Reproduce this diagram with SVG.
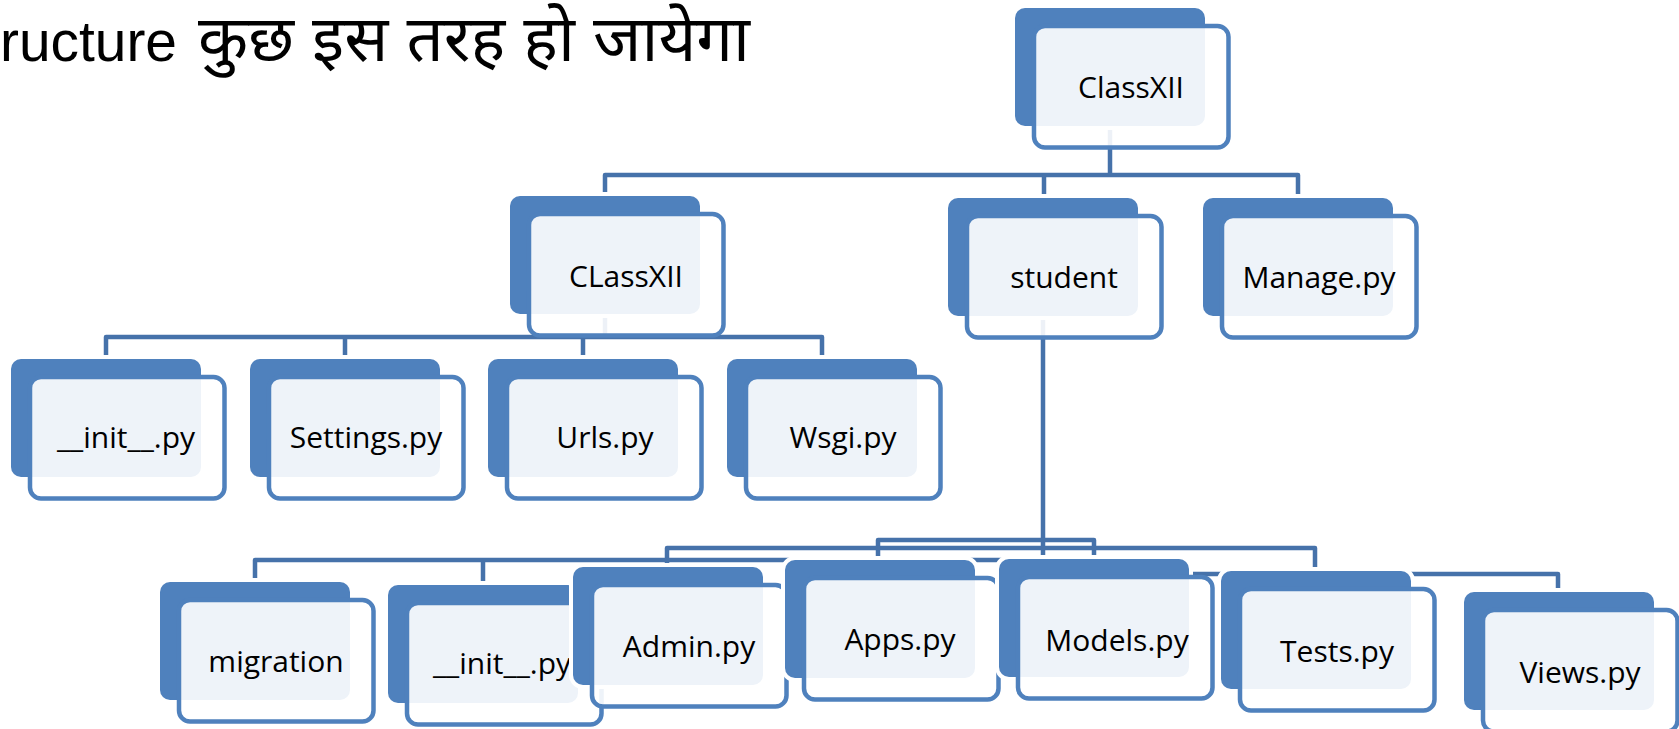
<svg xmlns="http://www.w3.org/2000/svg" width="1679" height="729" viewBox="0 0 1679 729">
<style>
.back{fill:#4F81BD;stroke:#FFFFFF;stroke-width:8;paint-order:stroke}
.front{fill:#FFFFFF;fill-opacity:0.9;stroke:#4F81BD;stroke-width:4.5}
.lbl{font-family:"Open Sans","Noto Sans",sans-serif;font-size:30px;fill:#000000;text-anchor:middle}
.conn{fill:none;stroke:#4672AA;stroke-width:4.5;stroke-linejoin:round}
.title{font-family:"Liberation Sans","Noto Sans","Noto Sans Devanagari",sans-serif;font-size:58px;fill:#000000}
</style>
<defs>
<g id="box">
<rect class="back" x="0" y="0" width="190" height="118" rx="10"/>
<rect class="front" x="19" y="18" width="194.5" height="121.5" rx="11"/>
</g>
</defs>
<text class="title" x="0" y="61"><tspan textLength="177" lengthAdjust="spacingAndGlyphs">ructure</tspan><tspan x="198" font-size="64" textLength="552" lengthAdjust="spacingAndGlyphs">कुछ इस तरह हो जायेगा</tspan></text>
<g id="connectors">
<path class="conn" d="M1110,127 V175 M605,196 V175 H1298 V198 M1044,175 V198"/>
<path class="conn" d="M605,314 V337 M106,359 V337 H822 V359 M345,337 V359 M583,337 V359"/>
<path class="conn" d="M1043,318 V574"/>
<path class="conn" d="M878,560 V540 H1094 V559"/>
<path class="conn" d="M667,567 V548 H1315 V571"/>
<path class="conn" d="M255,582 V560 H1043 M483,560 V585"/>
<path class="conn" d="M1043,574 H1558 V592"/>
</g>
<g id="n-classxii-root" transform="translate(1015,8)"><use href="#box"/><text class="lbl" x="116" y="90">ClassXII</text></g>
<g id="n-classxii" transform="translate(510,196)"><use href="#box"/><text class="lbl" x="116" y="91">CLassXII</text></g>
<g id="n-init1" transform="translate(11,359)"><use href="#box"/><text class="lbl" x="115" y="89">__init__.py</text></g>
<g id="n-settings" transform="translate(250,359)"><use href="#box"/><text class="lbl" x="116" y="89">Settings.py</text></g>
<g id="n-urls" transform="translate(488,359)"><use href="#box"/><text class="lbl" x="117" y="89">Urls.py</text></g>
<g id="n-wsgi" transform="translate(727,359)"><use href="#box"/><text class="lbl" x="116" y="89">Wsgi.py</text></g>
<g id="n-student" transform="translate(948,198)"><use href="#box"/><text class="lbl" x="116" y="90">student</text></g>
<g id="n-migration" transform="translate(160,582)"><use href="#box"/><text class="lbl" x="116" y="90">migration</text></g>
<g id="n-init2" transform="translate(388,585)"><use href="#box"/><text class="lbl" x="114" y="89">__init__.py</text></g>
<g id="n-admin" transform="translate(573,567)"><use href="#box"/><text class="lbl" x="116" y="90">Admin.py</text></g>
<g id="n-apps" transform="translate(785,560)"><use href="#box"/><text class="lbl" x="115" y="90">Apps.py</text></g>
<g id="n-models" transform="translate(999,559)"><use href="#box"/><text class="lbl" x="118" y="92">Models.py</text></g>
<g id="n-tests" transform="translate(1221,571)"><use href="#box"/><text class="lbl" x="116" y="91">Tests.py</text></g>
<g id="n-views" transform="translate(1464,592)"><use href="#box"/><text class="lbl" x="116" y="91">Views.py</text></g>
<g id="n-manage" transform="translate(1203,198)"><use href="#box"/><text class="lbl" x="116" y="90">Manage.py</text></g>
</svg>
